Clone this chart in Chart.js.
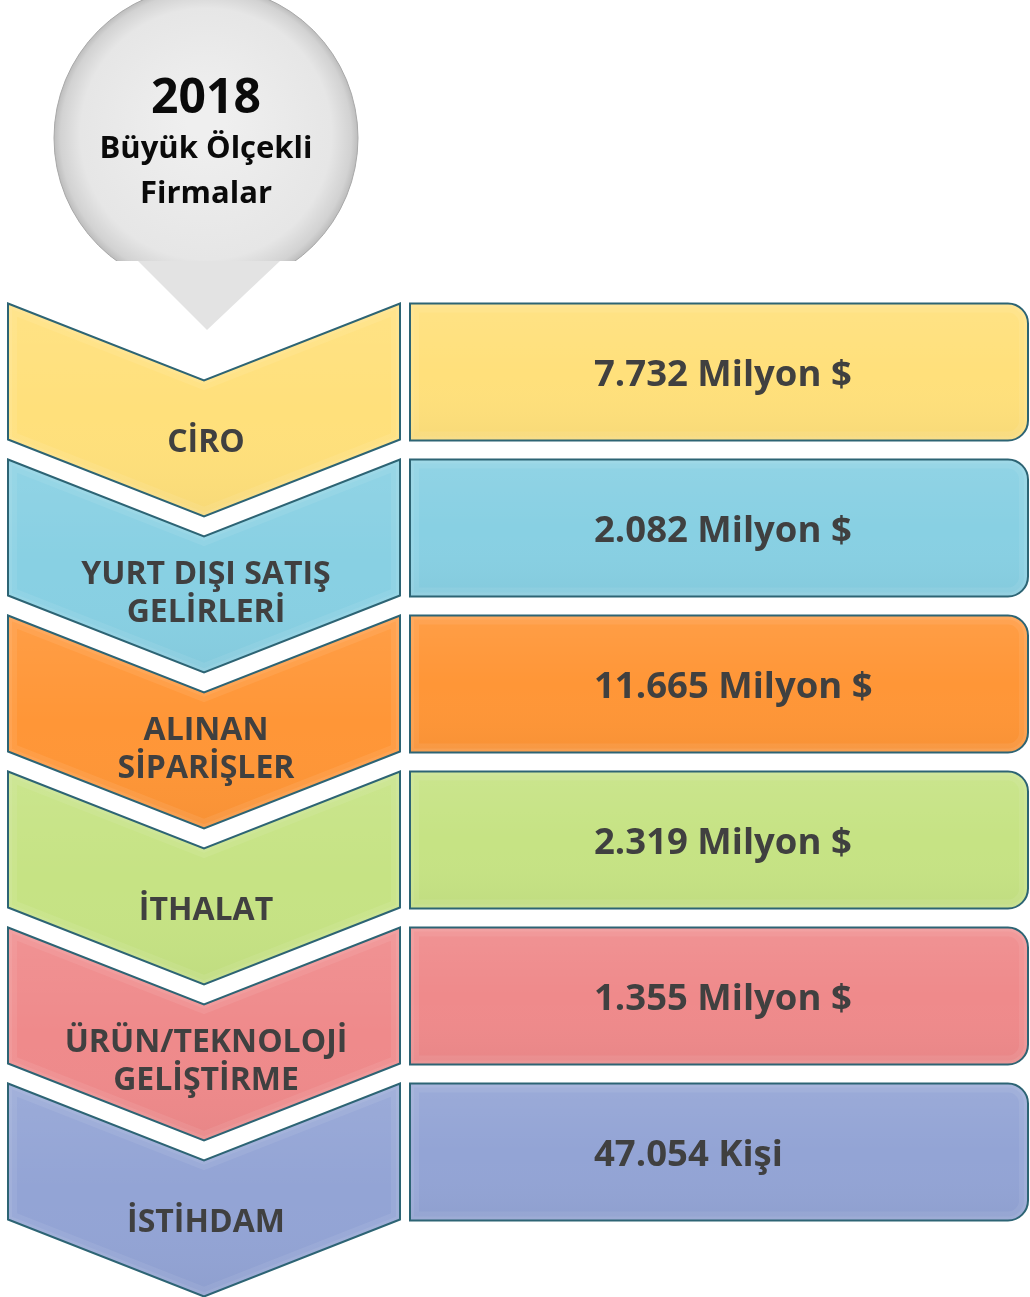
<!DOCTYPE html>
<html>
<head>
<meta charset="utf-8">
<script src="https://cdn.jsdelivr.net/npm/chart.js@4/dist/chart.umd.min.js"></script>
<style>
  html, body { margin: 0; padding: 0; background: #fff; }
  #wrap { width: 1030px; height: 1297px; }
</style>
</head>
<body>
<div id="wrap"><canvas id="infoChart" width="1030" height="1297"></canvas></div>
<script>
const titleLines = ['2018', 'Büyük Ölçekli', 'Firmalar'];
const categories = [
    ['CİRO'],
    ['YURT DIŞI SATIŞ', 'GELİRLERİ'],
    ['ALINAN', 'SİPARİŞLER'],
    ['İTHALAT'],
    ['ÜRÜN/TEKNOLOJİ', 'GELİŞTİRME'],
    ['İSTİHDAM']
];
const values = [7732, 2082, 11665, 2319, 1355, 47054];
const units = ['Milyon $', 'Milyon $', 'Milyon $', 'Milyon $', 'Milyon $', 'Kişi'];
const rowColors = ['#FFE07B', '#88D0E3', '#FF9637', '#C6E384', '#EF8A8B', '#93A4D5'];

const FONT = '"Open Sans", "Noto Sans", sans-serif';
const EDGE = '#2d6474';
const TEXT = '#404040';

// 7732 -> "7.732"
function fmt(n) {
    return String(n).replace(/\B(?=(\d{3})+(?!\d))/g, '.');
}

function chevronPath(ctx, left, right, top) {
    const mid = (left + right) / 2;
    ctx.beginPath();
    ctx.moveTo(left, top);
    ctx.lineTo(mid, top + 77);
    ctx.lineTo(right, top);
    ctx.lineTo(right, top + 136);
    ctx.lineTo(mid, top + 213);
    ctx.lineTo(left, top + 136);
    ctx.closePath();
}

function boxPath(ctx, left, right, top, bottom) {
    const r = 20;
    ctx.beginPath();
    ctx.moveTo(left, top);
    ctx.lineTo(right - r, top);
    ctx.arcTo(right, top, right, top + r, r);
    ctx.lineTo(right, bottom - r);
    ctx.arcTo(right, bottom, right - r, bottom, r);
    ctx.lineTo(left, bottom);
    ctx.closePath();
}

// flat fill + soft inner bevel + outline
function bevelShape(ctx, makePath, color, top, bottom) {
    ctx.save();
    makePath();
    ctx.fillStyle = color;
    ctx.fill();
    ctx.clip();
    const g = ctx.createLinearGradient(0, top, 0, bottom);
    g.addColorStop(0, 'rgba(255,255,255,0.08)');
    g.addColorStop(0.5, 'rgba(255,255,255,0)');
    g.addColorStop(1, 'rgba(0,0,0,0.03)');
    ctx.fillStyle = g;
    ctx.fill();
    makePath();
    ctx.lineWidth = 18;
    ctx.strokeStyle = 'rgba(255,255,255,0.07)';
    ctx.stroke();
    ctx.lineWidth = 8;
    ctx.strokeStyle = 'rgba(255,255,255,0.07)';
    ctx.stroke();
    ctx.restore();
    ctx.save();
    makePath();
    ctx.lineWidth = 2;
    ctx.strokeStyle = EDGE;
    ctx.stroke();
    ctx.restore();
}

const infographic = {
    id: 'infographic',
    afterDatasetsDraw(chart) {
        const ctx = chart.ctx;
        const y = chart.scales.y;
        const band = (y.bottom - y.top) / categories.length;
        const chevL = 8, chevR = 400, boxL = 410, boxR = 1028;

        // title bubble
        ctx.save();
        const cx = 206, cy = 138, rad = 152, cut = 261;
        ctx.beginPath();
        ctx.moveTo(138, cut);
        ctx.lineTo(280, cut);
        ctx.lineTo(207, 330);
        ctx.closePath();
        ctx.fillStyle = '#e3e3e3';
        ctx.fill();
        ctx.save();
        ctx.beginPath();
        ctx.rect(0, 0, chart.width, cut);
        ctx.clip();
        ctx.beginPath();
        ctx.arc(cx, cy, rad, 0, Math.PI * 2);
        const rg = ctx.createRadialGradient(cx, cy - 20, 20, cx, cy, rad);
        rg.addColorStop(0, '#efefef');
        rg.addColorStop(0.8, '#e6e6e6');
        rg.addColorStop(0.95, '#d2d2d2');
        rg.addColorStop(1, '#bdbdbd');
        ctx.fillStyle = rg;
        ctx.fill();
        ctx.lineWidth = 1;
        ctx.strokeStyle = '#a8a8a8';
        ctx.stroke();
        ctx.restore();
        ctx.fillStyle = '#0a0a0a';
        ctx.textAlign = 'center';
        ctx.textBaseline = 'alphabetic';
        ctx.font = 'bold 48px ' + FONT;
        ctx.fillText(titleLines[0], cx, 113);
        ctx.font = 'bold 31px ' + FONT;
        ctx.fillText(titleLines[1], cx, 158);
        ctx.fillText(titleLines[2], cx, 203);
        ctx.restore();

        categories.forEach((lines, i) => {
            const yc = y.getPixelForValue(i);
            const top = yc - band / 2 + 10;
            const bottom = top + 137;

            bevelShape(ctx, () => chevronPath(ctx, chevL, chevR, top), rowColors[i], top, top + 213);
            bevelShape(ctx, () => boxPath(ctx, boxL, boxR, top, bottom), rowColors[i], top, bottom);

            // category label
            ctx.save();
            ctx.fillStyle = TEXT;
            ctx.textAlign = 'center';
            ctx.textBaseline = 'alphabetic';
            ctx.font = 'bold 32px ' + FONT;
            const lx = (chevL + chevR) / 2 + 2;
            if (lines.length === 1) {
                ctx.fillText(lines[0], lx, yc + 80);
            } else {
                ctx.fillText(lines[0], lx, yc + 56);
                ctx.fillText(lines[1], lx, yc + 94);
            }

            // value label
            ctx.textAlign = 'left';
            ctx.font = 'bold 36.5px ' + FONT;
            ctx.fillText(fmt(values[i]) + ' ' + units[i], boxL + 184, yc + 14);
            ctx.restore();
        });
    }
};

new Chart(document.getElementById('infoChart'), {
    type: 'bar',
    data: {
        labels: categories,
        datasets: [{
            label: '2018',
            data: values,
            backgroundColor: 'rgba(0,0,0,0)',
            borderWidth: 0
        }]
    },
    options: {
        indexAxis: 'y',
        responsive: false,
        animation: false,
        layout: { padding: { top: 293.5, bottom: 67.5, left: 0, right: 0 } },
        plugins: {
            legend: { display: false },
            title: { display: false },
            tooltip: { enabled: false }
        },
        scales: {
            x: { display: false, beginAtZero: true },
            y: { display: false, offset: true }
        }
    },
    plugins: [infographic]
});
</script>
</body>
</html>
